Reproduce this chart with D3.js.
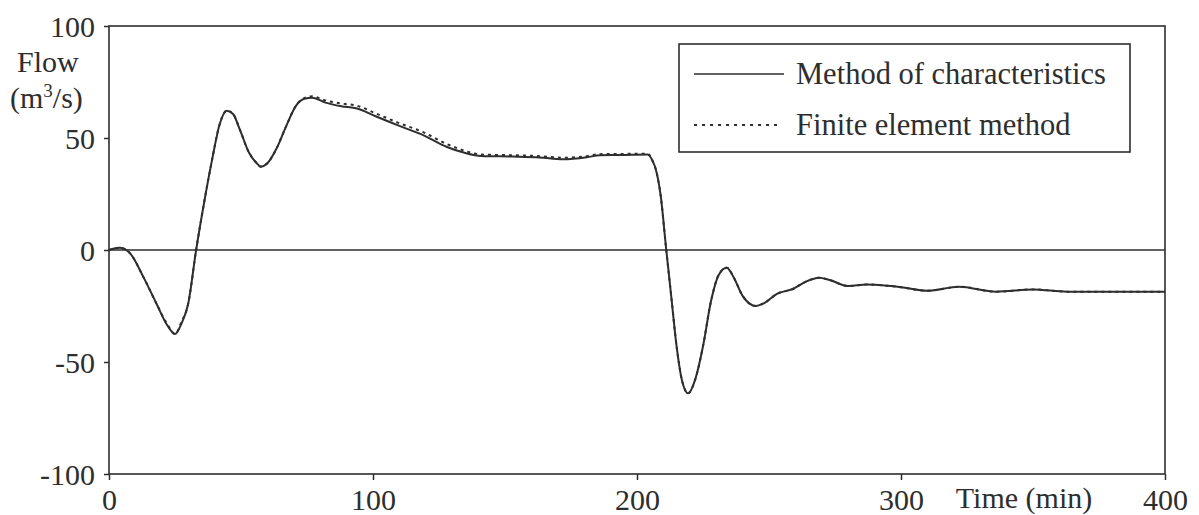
<!DOCTYPE html>
<html>
<head>
<meta charset="utf-8">
<script src="https://cdn.jsdelivr.net/npm/d3@7"></script>
<style>
  body { margin: 0; background: #fff; }
  text { font-family: "Liberation Serif", "Times New Roman", serif; fill: #2e2e2e; }
</style>
</head>
<body>
<script>
// time in minutes, flow in m3/s
const times = [0,4,8,13,18,22,25,27.5,30,33, 36,39,42,44.6,47,49.6,53,56,57.5,60,
  63.5,67,71,74,77,82,88,94,101,110, 119,128,135,141,153,163,172,181,186,194,
  204,206,207,209,211,213,215,217,219.4,222, 225,228,231,234,236.5,240,245,248,253,259,
  264,269,273,280,287,295,300,310,322,336, 350,363,375,400];

const mocFlow = [0,1,-1.5,-12,-24,-33.5,-37.5,-32.7,-24,0, 21,40,56.5,62.2,60.7,53.6,43.5,38.7,37.2,38.7,
  45.4,55,64.7,67.5,68,65.8,64.2,63.2,59.7,55.4, 51.3,46,43.3,42,41.7,41.3,40.5,41.4,42.3,42.4,
  42.6,39.5,36.5,24,1,-21,-43,-58,-64,-58, -43,-23,-11,-7.9,-11.9,-20.5,-25,-23.8,-19.6,-17.4,
  -14.1,-12.4,-13.4,-16.1,-15.4,-16,-16.6,-18.2,-16.4,-18.6, -17.6,-18.6,-18.6,-18.6];

const femFlow = [0,1,-1.5,-12,-24,-33,-37.5,-32,-24,0, 21,40,56.5,62.2,60.7,53.6,43.5,38.7,37.2,38.7,
  45.4,55,64.7,67.8,68.6,66.8,65.4,64.4,61,56.6, 52.6,47.3,44.2,42.6,42.3,41.9,41.2,41.9,42.8,42.9,
  43,39.5,36.5,24,1,-21,-43,-58,-64,-58, -43,-23,-11,-7.9,-11.9,-20.5,-25,-23.8,-19.6,-17.4,
  -14.1,-12.4,-13.4,-16.1,-15.4,-16,-16.6,-18.2,-16.4,-18.6, -17.6,-18.6,-18.6,-18.6];

const xTicks = [0, 100, 200, 300, 400];
const yTicks = [-100, -50, 0, 50, 100];
const seriesNames = ["Method of characteristics", "Finite element method"];

const W = 1199, H = 515;
const margin = {top: 26, right: 34, bottom: 41, left: 109};
const ink = "#2e2e2e";

const svg = d3.select("body").append("svg")
    .attr("width", W)
    .attr("height", H);

const x = d3.scaleLinear().domain([0, 400]).range([margin.left, W - margin.right]);
const y = d3.scaleLinear().domain([-100, 100]).range([H - margin.bottom, margin.top]);

// frame
svg.append("rect")
    .attr("x", x(0)).attr("y", y(100))
    .attr("width", x(400) - x(0)).attr("height", y(-100) - y(100))
    .attr("fill", "none").attr("stroke", ink).attr("stroke-width", 1.6);

// zero line
svg.append("line")
    .attr("x1", x(0)).attr("x2", x(400))
    .attr("y1", y(0)).attr("y2", y(0))
    .attr("stroke", ink).attr("stroke-width", 1.5);

// axes
const yAxis = svg.append("g")
    .attr("transform", "translate(" + x(0) + ",0)")
    .call(d3.axisLeft(y).tickValues(yTicks).tickSize(5).tickPadding(9).tickFormat(d => String(d)));
const xAxis = svg.append("g")
    .attr("transform", "translate(0," + y(-100) + ")")
    .call(d3.axisBottom(x).tickValues(xTicks).tickSize(6).tickPadding(9).tickFormat(d => String(d)));

[yAxis, xAxis].forEach(a => {
  a.select(".domain").remove();
  a.selectAll(".tick line").attr("stroke", ink).attr("stroke-width", 1.5);
  a.selectAll(".tick text").attr("fill", ink).style("font-size", "30px")
    .style("font-family", '"Liberation Serif", serif');
});
yAxis.selectAll(".tick text").attr("dy", "0.34em");
xAxis.selectAll(".tick text").attr("dy", "0.71em");

// axis titles
svg.append("text").attr("x", 17).attr("y", 72)
    .style("font-size", "30px").text("Flow");
const unit = svg.append("text").attr("x", 10).attr("y", 108).style("font-size", "30px");
unit.append("tspan").text("(m");
unit.append("tspan").attr("dy", -11).style("font-size", "19px").text("3");
unit.append("tspan").attr("dy", 11).text("/s)");

svg.append("text").attr("x", 1024).attr("y", 508)
    .attr("text-anchor", "middle").style("font-size", "30px").text("Time (min)");

// series
const line = (vals) => d3.line()
    .x((d, i) => x(times[i]))
    .y(d => y(d))
    .curve(d3.curveMonotoneX)(vals);

svg.append("path")
    .attr("d", line(femFlow))
    .attr("fill", "none").attr("stroke", ink)
    .attr("stroke-width", 2).attr("stroke-dasharray", "3,4");

svg.append("path")
    .attr("d", line(mocFlow))
    .attr("fill", "none").attr("stroke", ink)
    .attr("stroke-width", 2);

// legend
const lg = svg.append("g");
lg.append("rect")
    .attr("x", 679).attr("y", 44).attr("width", 451).attr("height", 108)
    .attr("fill", "#fff").attr("stroke", ink).attr("stroke-width", 1.6);
const legendRows = [{y: 74, dash: null}, {y: 125, dash: "3,5"}];
legendRows.forEach((r, i) => {
  lg.append("line")
      .attr("x1", 694).attr("x2", i === 0 ? 784 : 778)
      .attr("y1", r.y).attr("y2", r.y)
      .attr("stroke", ink).attr("stroke-width", i === 0 ? 1.6 : 2)
      .attr("stroke-dasharray", r.dash);
  lg.append("text")
      .attr("x", 796).attr("y", r.y + 10)
      .style("font-size", "30.5px")
      .text(seriesNames[i]);
});
</script>
</body>
</html>
